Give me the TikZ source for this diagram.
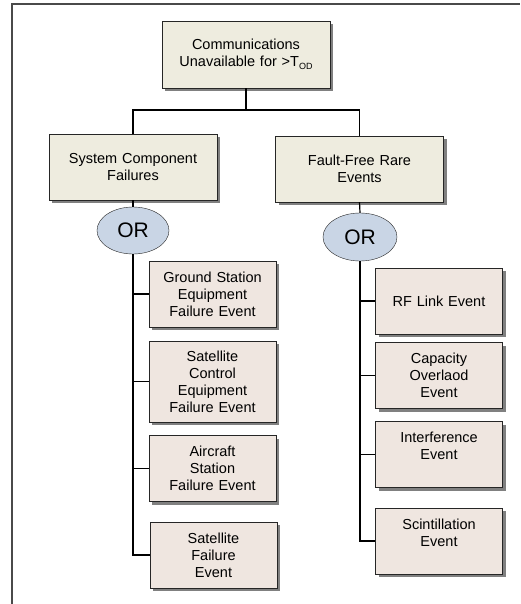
\documentclass[tikz,border=0pt]{standalone}
\usepackage{fontspec}
\setmainfont{Liberation Sans}
\usepackage{tikz}
\usetikzlibrary{shapes.geometric, shadows}
\usetikzlibrary{positioning}
\definecolor{beigefill}{HTML}{EEECDF}
\definecolor{eventfill}{HTML}{EFE6E0}
\definecolor{orfill}{HTML}{C9D5E5}
\definecolor{framegray}{HTML}{4A4A4A}
\tikzstyle{topbox} = [rectangle, 
minimum width=168pt, 
minimum height=67pt,
text centered, 
text width = 160pt,
draw=black!85, 
fill=beigefill,
drop shadow={shadow xshift=3pt, shadow yshift=-3pt, fill=black!50, opacity=1}]
\tikzstyle{eventbox} = [rectangle, 
minimum width=127pt, 
minimum height=66pt,
text centered, 
text width = 121pt,
inner xsep=3pt,
draw=black!85, 
fill=eventfill,
drop shadow={shadow xshift=3pt, shadow yshift=-3pt, fill=black!50, opacity=1}]
\tikzstyle{orgate} = [ellipse, 
minimum width=72pt, 
minimum height=47pt,
inner sep=0pt,
draw=black!85, 
fill=orfill,
font=\fontsize{21}{21}\selectfont]
\tikzstyle{line} = [draw, line width=1.2pt]

\begin{document}
\begin{tikzpicture}[x=1pt, y=-1pt, font=\fontsize{14.5}{17}\selectfont]

\useasboundingbox (0,0) rectangle (520,604);
\draw [framegray, line width=1.5pt] (12,604) -- (12,4) -- (520,4);

\node [topbox] (top) at (246,54.5) {Communications\\ Unavailable for >T\raisebox{-3pt}{\fontsize{9}{9}\selectfont OD}};
\node [topbox, minimum height=66pt] (sys) at (133,167) {System Component\\ Failures};
\node [topbox, minimum height=66pt] (ffr) at (359.5,169) {Fault-Free Rare\\ Events};

\node [orgate] (orA) at (133,230.5) {OR};
\node [orgate, minimum width=74pt, minimum height=48pt] (orB) at (360,237) {OR};

% system component failures
\node [eventbox] (g1) at (212.5,294) {Ground Station\\ Equipment\\ Failure Event};
\node [eventbox, minimum height=81pt] (g2) at (212.5,381.5) {Satellite\\ Control\\ Equipment\\ Failure Event};
\node [eventbox] (g3) at (212.5,468.5) {Aircraft\\ Station\\ Failure Event};
\node [eventbox] (g4) at (213.5,555) {Satellite\\ Failure\\ Event};

% fault-free rare events
\node [eventbox] (r1) at (439,301) {RF Link Event};
\node [eventbox] (r2) at (439,375.5) {Capacity\\ Overlaod\\ Event};
\node [eventbox] (r3) at (439,454.5) {Interference\\ Event\\ \mbox{}};
\node [eventbox] (r4) at (439,541) {Scintillation\\ Event\\ \mbox{}};

\coordinate (j) at (246,110);
\path [line] (top.south) -- (j);
\path [line] (sys.north) |- (j) -| (ffr.north);
\path [line] (sys.south) -- (orA.north);
\path [line] (ffr.south) -- (orB.north);

\foreach \n in {g1,g2,g3,g4}
  \path [line] (orA.south) |- (\n.west);
\foreach \n in {r1,r2,r3,r4}
  \path [line] (orB.south) |- (\n.west);

\end{tikzpicture}
\end{document}
